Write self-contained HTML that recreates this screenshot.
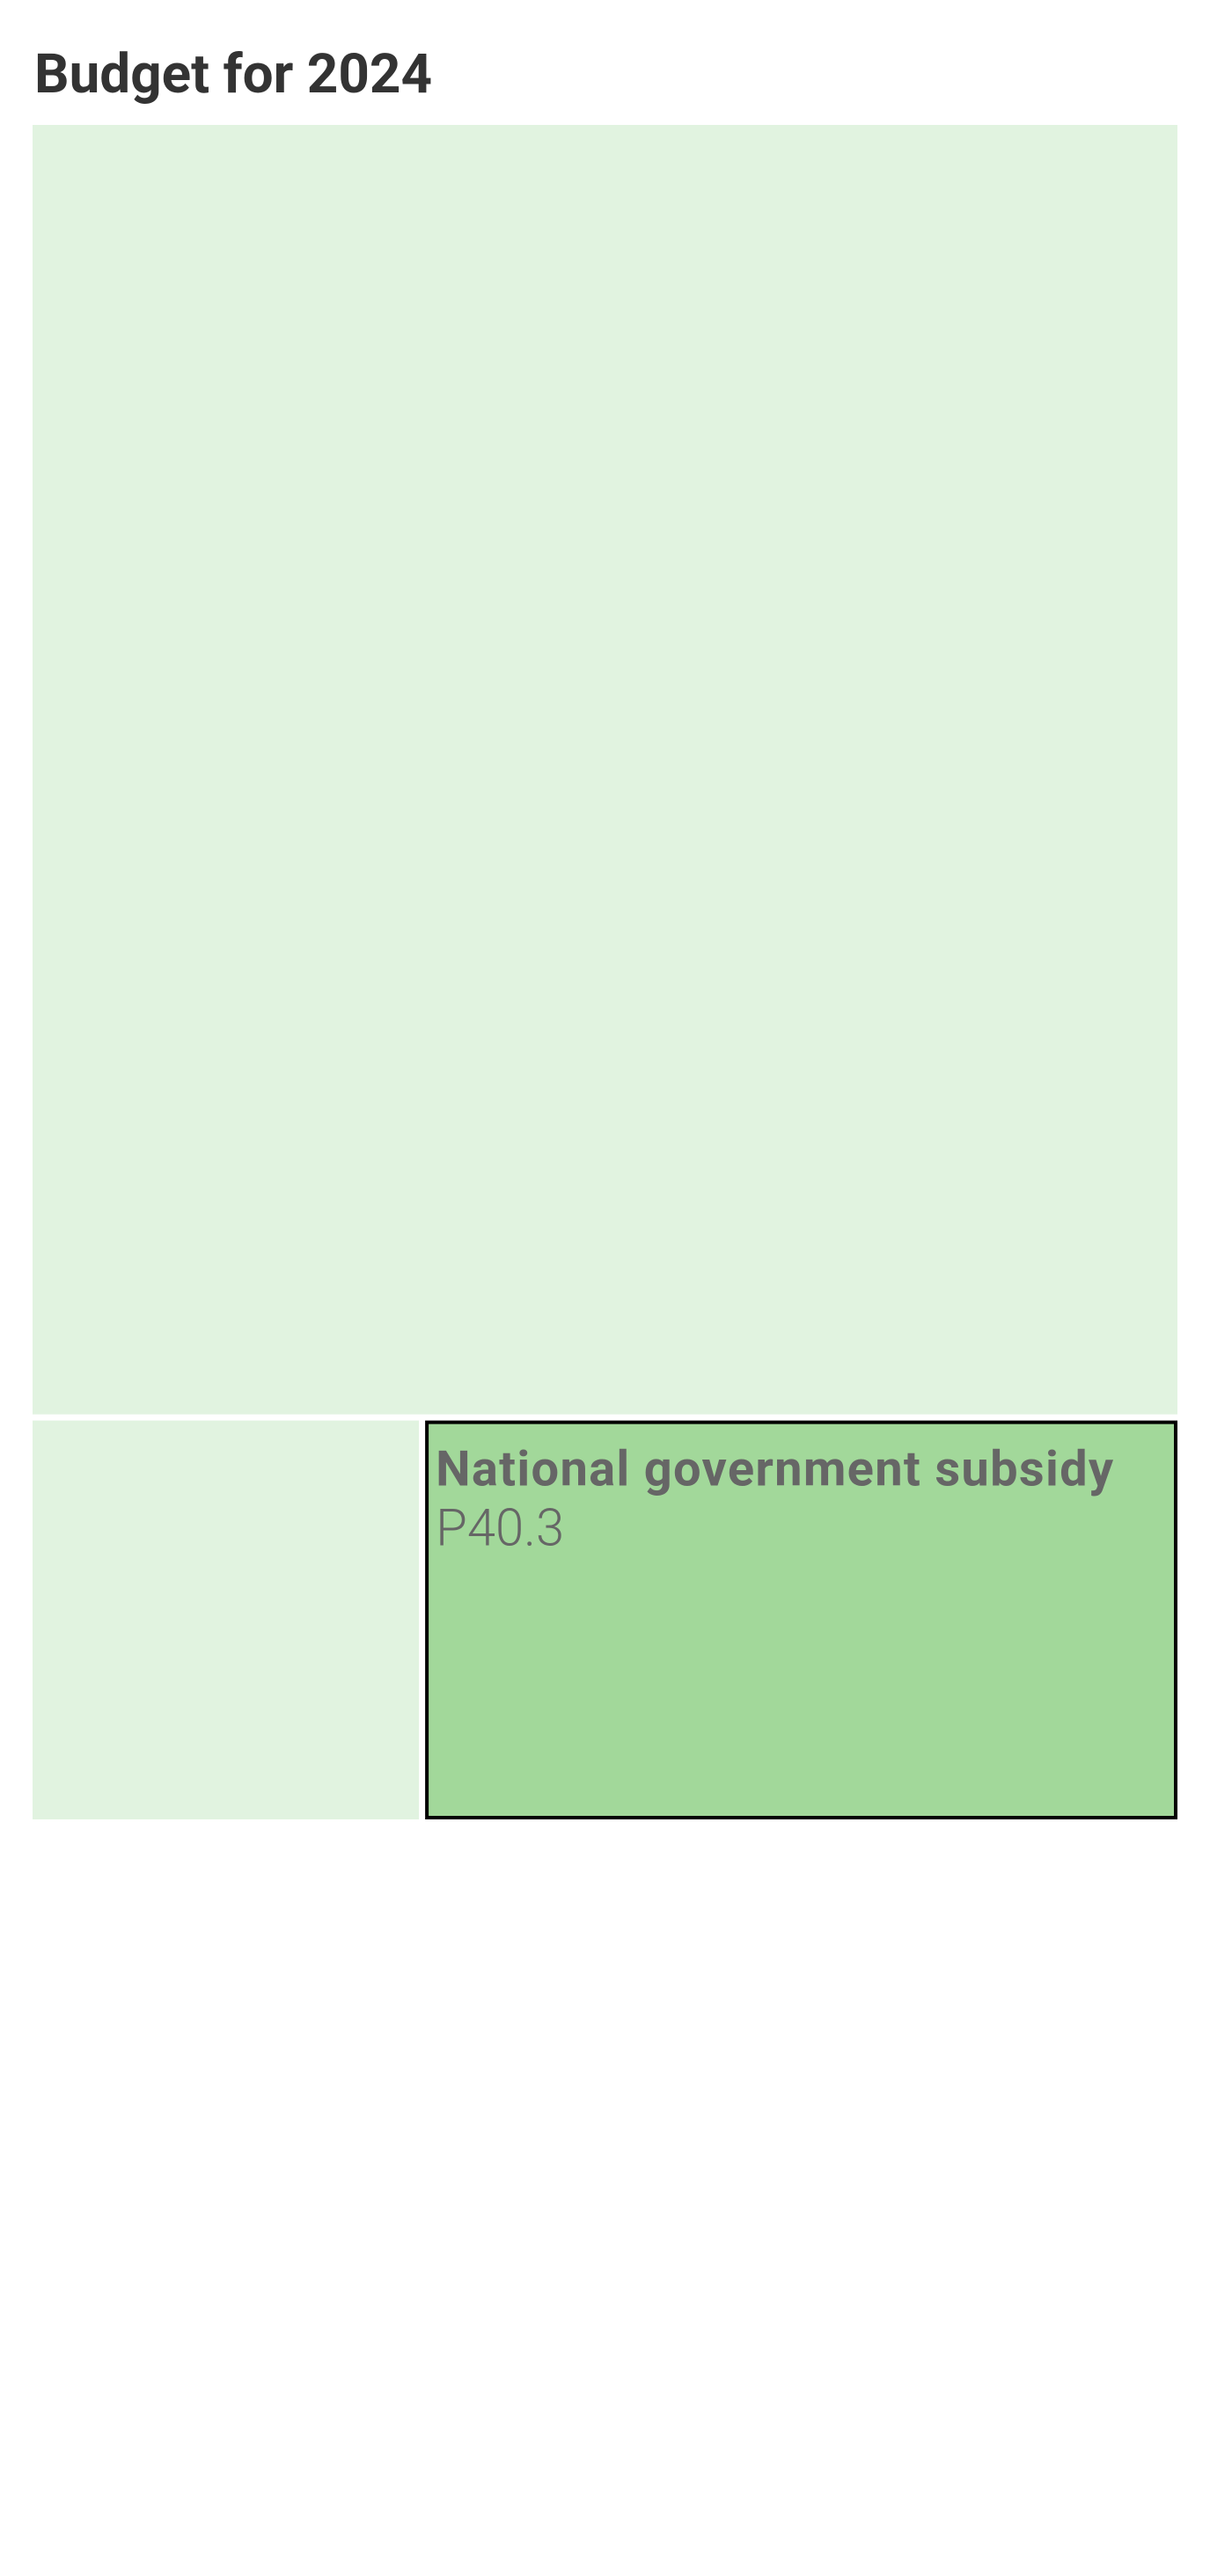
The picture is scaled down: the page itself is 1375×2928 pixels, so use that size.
<!DOCTYPE html>
<html><head><meta charset="utf-8"><style>
html,body{margin:0;padding:0;background:#fff;width:1375px;height:2928px;overflow:hidden}
svg{display:block}
</style></head><body>
<svg width="1375" height="2928">
<text x="39" y="105" font-family="Roboto, 'Liberation Sans', sans-serif" font-weight="700" font-size="62" fill="#333">Budget for 2024</text>
<g id="tm"></g>
</svg>
<script>
const categories = ["Local revenue", "Other income", "National government subsidy"];
const values = [197.2, 20.7, 40.3];
const labels = ["", "", "P40.3"];
const highlighted = [false, false, true];

const X0 = 37, X1 = 1338, Y0 = 142, Y1 = 2068, GAP = 7;
const total = values.reduce((a,b)=>a+b,0);
const g = document.getElementById('tm');
const NS = 'http://www.w3.org/2000/svg';
const hScale = v => (v/total)*(Y1-Y0-GAP);
const topH = hScale(values[0]);
const restSum = values[1]+values[2];
const wScale = v => (v/restSum)*(X1-X0-GAP);
const rects = [
  {x:X0, y:Y0, w:X1-X0, h:topH},
  {x:X0, y:Y0+topH+GAP, w:wScale(values[1]), h:Y1-(Y0+topH+GAP)},
  {x:X0+wScale(values[1])+GAP, y:Y0+topH+GAP, w:wScale(values[2]), h:Y1-(Y0+topH+GAP)}
];
rects.forEach((r,i)=>{
  const el = document.createElementNS(NS,'rect');
  
  
  el.setAttribute('x', r.x); el.setAttribute('y', r.y);
  el.setAttribute('width', r.w); el.setAttribute('height', r.h);
  if (highlighted[i]) {
    el.setAttribute('fill', '#a2d89a');
    el.setAttribute('stroke', '#000'); el.setAttribute('stroke-width', '4');
    el.setAttribute('x', r.x+2); el.setAttribute('y', r.y+2);
    el.setAttribute('width', r.w-4); el.setAttribute('height', r.h-4);
  } else {
    el.setAttribute('fill', '#e1f3e0');
  }
  g.appendChild(el);
  if (highlighted[i]) {
    const t = document.createElementNS(NS,'text');
    
    
    t.setAttribute('x', r.x+12); t.setAttribute('y', r.y+74);
    t.setAttribute('font-family', "Roboto, 'Liberation Sans', sans-serif");
    t.setAttribute('font-weight', '700'); t.setAttribute('font-size', '56');
    t.setAttribute('fill', '#666');
    t.setAttribute('textLength', '770');
    t.textContent = categories[i];
    g.appendChild(t);
    const v = document.createElementNS(NS,'text');
    
    
    v.setAttribute('x', r.x+12); v.setAttribute('y', r.y+142);
    v.setAttribute('font-family', "Roboto, 'Liberation Sans', sans-serif");
    v.setAttribute('font-weight', '300'); v.setAttribute('font-size', '58');
    v.setAttribute('fill', '#666');
    v.textContent = labels[i];
    g.appendChild(v);
  }
});
</script>
</body></html>
